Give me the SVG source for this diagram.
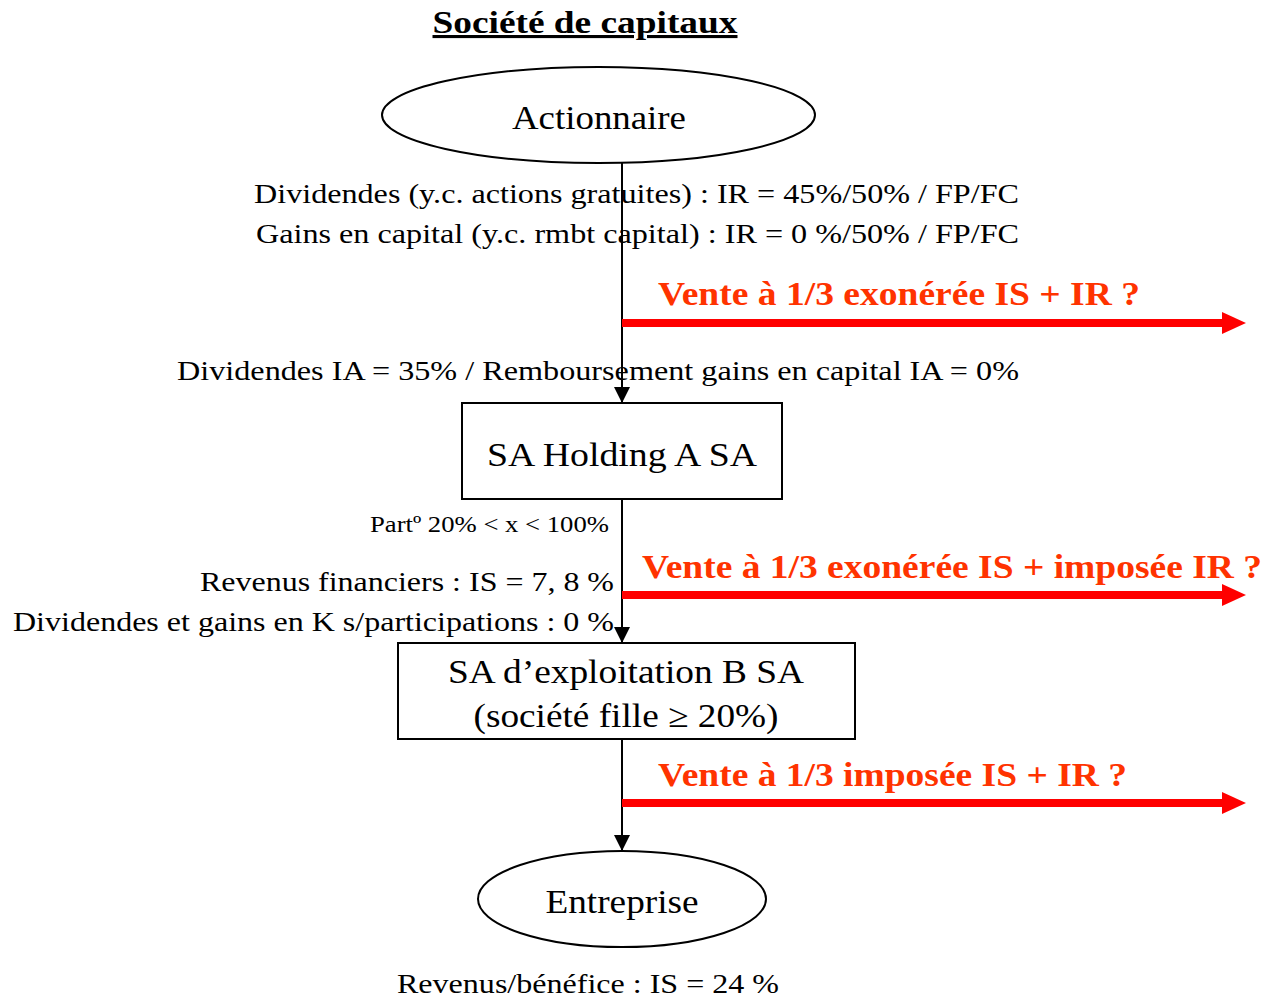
<svg xmlns="http://www.w3.org/2000/svg" width="1263" height="997" viewBox="0 0 1263 997">
  <style>
    .t { font-family: "Liberation Serif", "Times New Roman", Times, serif; fill: #000; }
    .node { fill: #fff; stroke: #000; stroke-width: 2; }
    .lbl { font-size: 33px; }
    .note { font-size: 27px; }
    .small { font-size: 23px; }
    .red { font-family: "Liberation Serif", "Times New Roman", Times, serif; font-weight: bold; font-size: 33px; fill: #ff3300; }
    .flow { stroke: #000; stroke-width: 2; fill: none; }
    .sale { stroke: #ff0000; stroke-width: 8; fill: none; }
  </style>
  <defs>
    <marker id="ah" markerWidth="16" markerHeight="16" refX="16" refY="8" orient="auto" markerUnits="userSpaceOnUse" viewBox="0 0 16 16">
      <path d="M0,0 L16,8 L0,16 Z" fill="#000"/>
    </marker>
  </defs>

  <!-- title -->
  <text class="t" x="585" y="33" text-anchor="middle" font-size="31" font-weight="bold" text-decoration="underline" textLength="305" lengthAdjust="spacingAndGlyphs">Société de capitaux</text>

  <!-- connectors -->
  <g id="connectors">
    <line class="flow" x1="622" y1="163" x2="622" y2="403" marker-end="url(#ah)"/>
    <line class="flow" x1="622" y1="499" x2="622" y2="643" marker-end="url(#ah)"/>
    <line class="flow" x1="622" y1="739" x2="622" y2="851" marker-end="url(#ah)"/>
    <line class="sale" x1="622" y1="323" x2="1224" y2="323"/>
    <polygon points="1222,312 1246,323 1222,334" fill="#ff0000"/>
    <line class="sale" x1="622" y1="595" x2="1224" y2="595"/>
    <polygon points="1222,584 1246,595 1222,606" fill="#ff0000"/>
    <line class="sale" x1="622" y1="803" x2="1224" y2="803"/>
    <polygon points="1222,792 1246,803 1222,814" fill="#ff0000"/>
  </g>

  <!-- nodes -->
  <g id="actionnaire">
    <ellipse class="node" cx="598.5" cy="115" rx="216.5" ry="48"/>
    <text class="t lbl" x="599" y="129" text-anchor="middle" textLength="174" lengthAdjust="spacingAndGlyphs">Actionnaire</text>
  </g>
  <g id="holding">
    <rect class="node" x="462" y="403" width="320" height="96"/>
    <text class="t lbl" x="622" y="466" text-anchor="middle" textLength="270" lengthAdjust="spacingAndGlyphs">SA Holding A SA</text>
  </g>
  <g id="exploitation">
    <rect class="node" x="398" y="643" width="457" height="96"/>
    <text class="t lbl" x="626" y="683" text-anchor="middle" textLength="356" lengthAdjust="spacingAndGlyphs">SA d’exploitation B SA</text>
    <text class="t lbl" x="626" y="727" text-anchor="middle" textLength="305" lengthAdjust="spacingAndGlyphs">(société fille ≥ 20%)</text>
  </g>
  <g id="entreprise">
    <ellipse class="node" cx="622" cy="899" rx="144" ry="48"/>
    <text class="t lbl" x="622" y="913" text-anchor="middle" textLength="153" lengthAdjust="spacingAndGlyphs">Entreprise</text>
  </g>

  <!-- tax notes -->
  <g id="notes">
    <text class="t note" x="1019" y="203" text-anchor="end" textLength="765" lengthAdjust="spacingAndGlyphs">Dividendes (y.c. actions gratuites) : IR = 45%/50% / FP/FC</text>
    <text class="t note" x="1019" y="243" text-anchor="end" textLength="763" lengthAdjust="spacingAndGlyphs">Gains en capital (y.c. rmbt capital) : IR = 0 %/50% / FP/FC</text>
    <text class="t note" x="1019" y="380" text-anchor="end" textLength="842" lengthAdjust="spacingAndGlyphs">Dividendes IA = 35% / Remboursement gains en capital IA = 0%</text>
    <text class="t small" x="609" y="532" text-anchor="end" textLength="239" lengthAdjust="spacingAndGlyphs">Partº 20% &lt; x &lt; 100%</text>
    <text class="t note" x="614" y="591" text-anchor="end" textLength="414" lengthAdjust="spacingAndGlyphs">Revenus financiers : IS = 7, 8 %</text>
    <text class="t note" x="614" y="631" text-anchor="end" textLength="601" lengthAdjust="spacingAndGlyphs">Dividendes et gains en K s/participations : 0 %</text>
    <text class="t note" x="779" y="993" text-anchor="end" textLength="382" lengthAdjust="spacingAndGlyphs">Revenus/bénéfice : IS = 24 %</text>
  </g>

  <!-- sale labels -->
  <g id="sales">
    <text class="red" x="658" y="305" textLength="482" lengthAdjust="spacingAndGlyphs">Vente à 1/3 exonérée IS + IR ?</text>
    <text class="red" x="642" y="578" textLength="620" lengthAdjust="spacingAndGlyphs">Vente à 1/3 exonérée IS + imposée IR ?</text>
    <text class="red" x="658" y="786" textLength="469" lengthAdjust="spacingAndGlyphs">Vente à 1/3 imposée IS + IR ?</text>
  </g>
</svg>
